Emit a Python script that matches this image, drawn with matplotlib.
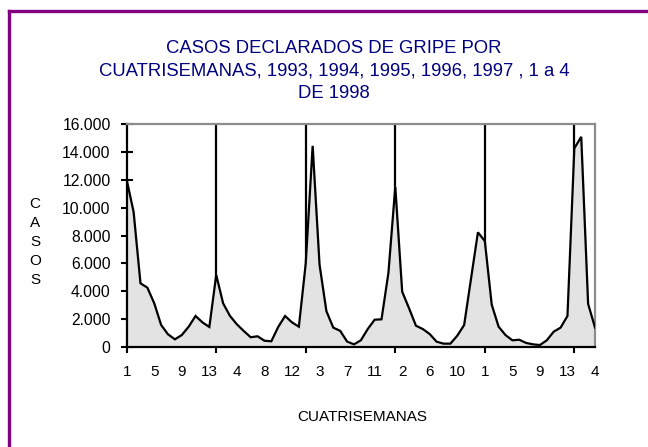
import matplotlib
matplotlib.use("Agg")
import matplotlib.pyplot as plt
from matplotlib.lines import Line2D
from matplotlib.ticker import FuncFormatter
import numpy as np

plt.rcParams["font.family"] = ["Liberation Sans", "DejaVu Sans"]

# ----------------------------- data ------------------------------------

# declared flu cases per four-week period (cuatrisemana)
casos_1993 = [12000, 9700, 4560, 4250, 3120, 1560, 890, 530, 840, 1440, 2210, 1750, 1420]
casos_1994 = [5160, 3120, 2210, 1610, 1130, 680, 750, 430, 390, 1420, 2210, 1750, 1440]
casos_1995 = [6000, 14450, 5900, 2550, 1370, 1140, 370, 170, 460, 1270, 1940, 1970, 5300]
casos_1996 = [11500, 3960, 2760, 1510, 1270, 910, 360, 220, 220, 790, 1560, 4900, 8230]
casos_1997 = [7600, 3030, 1440, 840, 460, 500, 270, 170, 120, 460, 1080, 1370, 2210]
casos_1998 = [14270, 15100, 3080, 1380]

years = [casos_1993, casos_1994, casos_1995, casos_1996, casos_1997, casos_1998]
cuatrisemana = [w + 1 for y in years for w in range(len(y))]
casos = np.array([v for y in years for v in y], dtype=float)
idx = np.arange(len(casos))

y_ticks = list(range(0, 16001, 2000))
label_step = 4

TITLE = ("CASOS DECLARADOS DE GRIPE POR\n"
         "CUATRISEMANAS, 1993, 1994, 1995, 1996, 1997 , 1 a 4\n"
         "DE 1998")

# ----------------------------- figure ----------------------------------

W, H = 648, 447
fig = plt.figure(figsize=(W / 100, H / 100), dpi=100)
ax = fig.add_axes([126.7 / W, 1 - 346.7 / H, (595 - 126.7) / W, (346.7 - 124.3) / H])

# year boundaries: vertical black gridlines behind the filled area
year_starts = np.cumsum([len(y) for y in years])[:-1]
for s in year_starts:
    ax.axvline(s, color="black", lw=1.6, zorder=1)

ax.fill_between(idx, casos, 0, color="#e3e3e3", zorder=2)
ax.plot(idx, casos, color="black", lw=1.6, zorder=3, solid_joinstyle="miter")

ax.set_xlim(0, len(casos) - 1)
ax.set_ylim(0, 16000)

ax.set_yticks(y_ticks)
ax.yaxis.set_major_formatter(FuncFormatter(lambda v, p: f"{int(v):,}".replace(",", ".")))
ax.tick_params(axis="y", direction="inout", length=9, width=1.5, pad=7, labelsize=11.3)

# tick marks at year starts, labels every 4th cuatrisemana
ax.xaxis.remove_overlapping_locs = False
ax.set_xticks([0] + list(year_starts))
ax.set_xticklabels([])
ax.set_xticks(idx[::label_step], minor=True)
ax.set_xticklabels([str(cuatrisemana[i]) for i in idx[::label_step]], minor=True)
ax.tick_params(axis="x", which="major", direction="inout", length=9, width=1.5)
ax.tick_params(axis="x", which="minor", length=0, pad=13, labelsize=11)

for side in ("left", "bottom"):
    ax.spines[side].set_color("black")
    ax.spines[side].set_linewidth(1.6)
for side in ("top", "right"):
    ax.spines[side].set_color("#8c8c8c")
    ax.spines[side].set_linewidth(1.6)

fig.text(334 / W, 1 - 71 / H, TITLE, ha="center", va="center",
         color="#000080", fontsize=13.3, linespacing=1.45)
fig.text(35 / W, 1 - 242 / H, "C\nA\nS\nO\nS", ha="center", va="center",
         fontsize=11, linespacing=1.45)
fig.text(362 / W, 1 - 417 / H, "CUATRISEMANAS", ha="center", va="center",
         fontsize=11)

# purple frame (top and left edges visible in the original)
fig.add_artist(Line2D([9 / W, 1], [1 - 10.5 / H, 1 - 10.5 / H],
                      transform=fig.transFigure, color="#800080", lw=2.4))
fig.add_artist(Line2D([9 / W, 9 / W], [0, 1 - 10.5 / H],
                      transform=fig.transFigure, color="#800080", lw=2.4))

fig.savefig("out.png", dpi=100)
